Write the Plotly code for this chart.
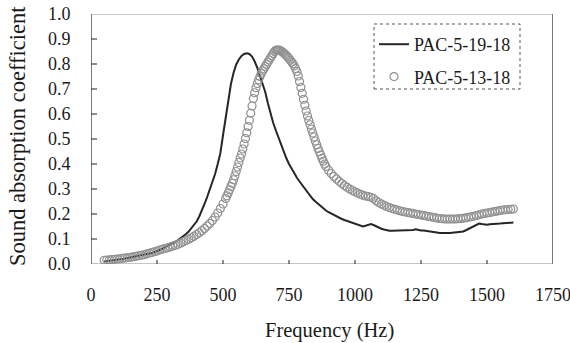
import plotly.graph_objects as go

# ---- data ----
freq_a = list(range(50, 1601, 10))  # PAC-5-19-18 (solid line)
alpha_a = [
    0.010, 0.012, 0.013, 0.014, 0.016, 0.018, 0.019, 0.020, 0.022, 0.023,
    0.025, 0.027, 0.029, 0.031, 0.033, 0.035, 0.038, 0.041, 0.044, 0.047,
    0.050, 0.056, 0.061, 0.066, 0.071, 0.076, 0.082, 0.089, 0.096, 0.103,
    0.111, 0.120, 0.130, 0.142, 0.155, 0.170, 0.190, 0.213, 0.240, 0.268,
    0.297, 0.325, 0.360, 0.400, 0.443, 0.515, 0.590, 0.665, 0.720, 0.765,
    0.798, 0.818, 0.832, 0.840, 0.843, 0.840, 0.830, 0.810, 0.785, 0.752,
    0.723, 0.688, 0.643, 0.600, 0.565, 0.535, 0.505, 0.478, 0.450, 0.423,
    0.400, 0.380, 0.362, 0.345, 0.330, 0.315, 0.300, 0.285, 0.272, 0.260,
    0.250, 0.240, 0.230, 0.222, 0.214, 0.207, 0.201, 0.195, 0.190, 0.185,
    0.180, 0.176, 0.172, 0.168, 0.164, 0.160, 0.155, 0.152, 0.150, 0.153,
    0.157, 0.160, 0.156, 0.150, 0.145, 0.141, 0.138, 0.135, 0.133, 0.133,
    0.133, 0.133, 0.133, 0.133, 0.134, 0.134, 0.135, 0.136, 0.139, 0.135,
    0.134, 0.134, 0.133, 0.132, 0.131, 0.130, 0.126, 0.124, 0.123, 0.123,
    0.124, 0.124, 0.125, 0.126, 0.127, 0.128, 0.130, 0.135, 0.141, 0.147,
    0.153, 0.159, 0.162, 0.160, 0.158, 0.157, 0.159, 0.159, 0.160, 0.161,
    0.162, 0.163, 0.163, 0.164, 0.165, 0.166,
]

freq_b = (list(range(50, 511, 10)) + list(range(515, 886, 5))
          + list(range(890, 1601, 10)))  # PAC-5-13-18 (open circles)
alpha_b = [
    # 50 - 510 (step 10)
    0.015, 0.016, 0.017, 0.018, 0.019, 0.020, 0.021, 0.023, 0.024, 0.026,
    0.027, 0.029, 0.031, 0.033, 0.035, 0.037, 0.040, 0.043, 0.046, 0.049,
    0.052, 0.056, 0.059, 0.062, 0.065, 0.068, 0.072, 0.075, 0.079, 0.084,
    0.089, 0.094, 0.099, 0.105, 0.111, 0.118, 0.125, 0.133, 0.142, 0.152,
    0.162, 0.174, 0.188, 0.204, 0.222, 0.240, 0.262,
    # 515 - 885 (step 5)
    0.273, 0.285, 0.297, 0.310, 0.323, 0.337, 0.353, 0.370, 0.388, 0.406,
    0.424, 0.440, 0.460, 0.480, 0.502, 0.525, 0.550, 0.575, 0.603, 0.632,
    0.662, 0.685, 0.705, 0.722, 0.737, 0.750, 0.762, 0.772, 0.781, 0.790,
    0.799, 0.808, 0.816, 0.825, 0.833, 0.842, 0.850, 0.855, 0.856, 0.856,
    0.855, 0.852, 0.848, 0.844, 0.839, 0.834, 0.828, 0.822, 0.815, 0.808,
    0.801, 0.792, 0.782, 0.770, 0.752, 0.730, 0.706, 0.683, 0.659, 0.635,
    0.612, 0.592, 0.574, 0.557, 0.540, 0.524, 0.508, 0.492, 0.477, 0.462,
    0.449, 0.436, 0.423, 0.411, 0.400,
    # 890 - 1600 (step 10)
    0.390, 0.375, 0.362, 0.350, 0.340, 0.331, 0.322, 0.314, 0.307, 0.300,
    0.294, 0.289, 0.284, 0.279, 0.275, 0.272, 0.270, 0.267, 0.262, 0.253,
    0.246, 0.240, 0.235, 0.230, 0.226, 0.222, 0.219, 0.216, 0.213, 0.210,
    0.208, 0.206, 0.204, 0.202, 0.200, 0.198, 0.196, 0.194, 0.192, 0.190,
    0.188, 0.186, 0.184, 0.182, 0.181, 0.180, 0.180, 0.180, 0.180, 0.180,
    0.181, 0.182, 0.183, 0.185, 0.187, 0.189, 0.191, 0.194, 0.197, 0.200,
    0.202, 0.204, 0.206, 0.208, 0.210, 0.212, 0.214, 0.216, 0.217, 0.218,
    0.219, 0.220,
]

series_names = ["PAC-5-19-18", "PAC-5-13-18"]
x_ticks = [0, 250, 500, 750, 1000, 1250, 1500, 1750]
x_minor_step = 50
y_ticks = [0.0, 0.1, 0.2, 0.3, 0.4, 0.5, 0.6, 0.7, 0.8, 0.9, 1.0]
x_title = "Frequency (Hz)"
y_title = "Sound absorption coefficient"

FONT = "Liberation Serif, Times New Roman, serif"
INK = "#1a1a1a"
CLEAR = "rgba(0,0,0,0)"
PW, PH = 462, 250  # plot area size in px
X0, X1 = x_ticks[0], x_ticks[-1]
Y0, Y1 = y_ticks[0], y_ticks[-1]
px_x = (X1 - X0) / PW   # Hz per pixel
px_y = (Y1 - Y0) / PH   # units per pixel

fig = go.Figure()
fig.add_trace(go.Scatter(
    x=freq_a, y=alpha_a, mode="lines", name=series_names[0],
    line=dict(color="#262626", width=2), legendgroup="a",
))
fig.add_trace(go.Scatter(
    x=freq_b, y=alpha_b, mode="markers", name=series_names[1],
    marker=dict(symbol="circle-open", size=8, color="#8f8f8f",
                line=dict(width=1.2, color="#8f8f8f")),
    legendgroup="b",
))

# ---- axis decoration (frame + tick marks), built from the tick arrays ----
deco = dict(mode="lines", showlegend=False, hoverinfo="skip", cliponaxis=False)
fig.add_trace(go.Scatter(
    x=[X0, X0, X1, X1], y=[Y1, Y0, Y0, Y1],
    line=dict(color="#8c8c8c", width=1.1), **deco))           # bottom
fig.add_trace(go.Scatter(
    x=[X0, X1], y=[Y1, Y1], line=dict(color="#9a9a9a", width=1.1), **deco))  # top
fig.add_trace(go.Scatter(
    x=[X0, X0, None, X1, X1], y=[Y0, Y1, None, Y0, Y1],
    line=dict(color="#404040", width=1.1), **deco))           # left / right

maj_x, maj_y = [], []
for v in x_ticks[1:-1]:
    maj_x += [v, v, None]
    maj_y += [Y0 - 5 * px_y, Y0 + 4 * px_y, None]
for v in y_ticks[1:-1]:
    maj_x += [X0, X0 + 6 * px_x, None]
    maj_y += [v, v, None]
fig.add_trace(go.Scatter(x=maj_x, y=maj_y,
                         line=dict(color="#333333", width=1.1), **deco))

min_x, min_y = [], []
for v in range(X0, X1 + 1, x_minor_step):
    if v not in x_ticks:
        min_x += [v, v, None]
        min_y += [Y0 - 4 * px_y, Y0, None]
fig.add_trace(go.Scatter(x=min_x, y=min_y,
                         line=dict(color="#8c8c8c", width=1.1), **deco))

fig.update_layout(
    width=570, height=343,
    margin=dict(l=91, r=17, t=14, b=79, autoexpand=False),
    paper_bgcolor="white", plot_bgcolor="white",
    font=dict(family=FONT, size=18, color=INK),
    showlegend=True,
    legend=dict(
        x=(374 - 91) / PW, y=1 - (26 - 14) / PH, xanchor="left", yanchor="top",
        bgcolor=CLEAR, borderwidth=0,
        font=dict(family=FONT, size=18, color=INK),
        traceorder="grouped", tracegroupgap=6,
    ),
    xaxis=dict(
        range=[X0, X1], tickvals=x_ticks, ticks="outside", ticklen=14,
        tickcolor=CLEAR, showline=False, showgrid=False, zeroline=False,
        automargin=False, ticklabeloverflow="allow",
        tickfont=dict(family=FONT, size=18, color=INK),
    ),
    yaxis=dict(
        range=[Y0, Y1], tickvals=y_ticks, tickformat=".1f",
        ticks="outside", ticklen=16, tickcolor=CLEAR,
        showline=False, showgrid=False, zeroline=False, automargin=False,
        tickfont=dict(family=FONT, size=18, color=INK),
    ),
    annotations=[
        dict(text=x_title, xref="paper", yref="paper", x=0.517, y=-0.265,
             xanchor="center", yanchor="middle", showarrow=False,
             font=dict(family=FONT, size=20.5, color=INK)),
        dict(text=y_title, xref="paper", yref="paper", x=-0.159, y=0.51,
             xanchor="center", yanchor="middle", showarrow=False, textangle=-90,
             font=dict(family=FONT, size=22.5, color=INK)),
    ],
    shapes=[dict(
        type="rect", xref="paper", yref="paper",
        x0=(374 - 91) / PW, x1=(520 - 91) / PW,
        y0=1 - (89 - 14) / PH, y1=1 - (24 - 14) / PH,
        line=dict(color="#555555", width=1, dash="dot"),
        fillcolor=CLEAR, layer="above",
    )],
)

fig.write_html(
    "out.html",
    config={"displayModeBar": False},
    post_script="document.body.style.margin='0';document.body.style.overflow='hidden';",
)
